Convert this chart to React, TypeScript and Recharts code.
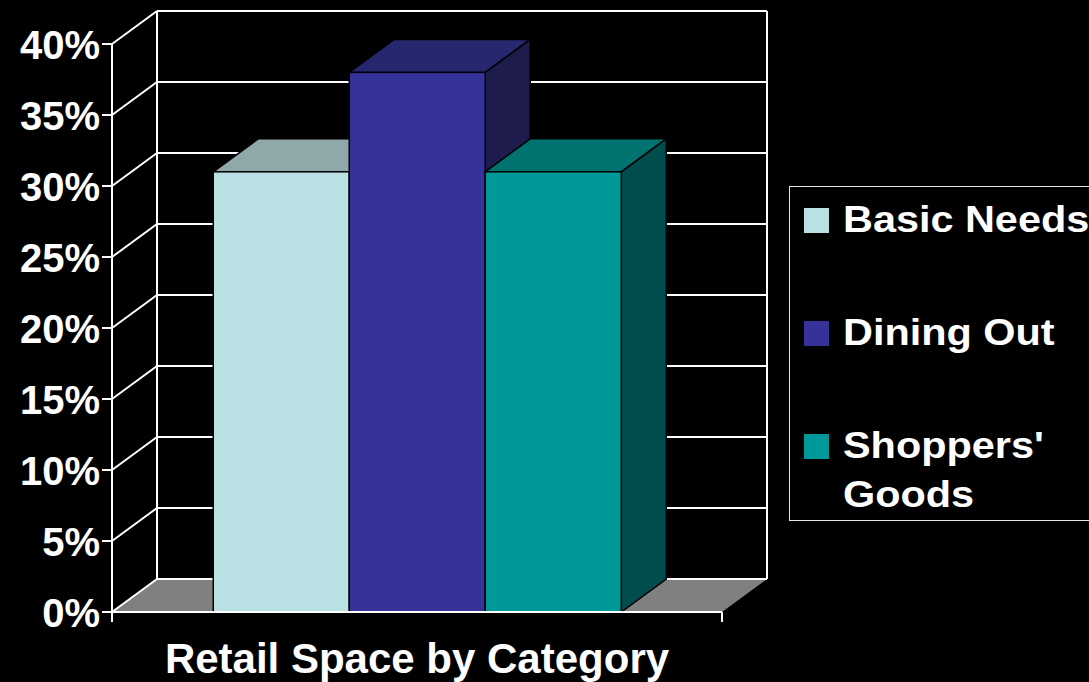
import React from 'react';
import { BarChart, Bar, XAxis, YAxis, CartesianGrid, Legend } from 'recharts';

const categories = ['Retail Space by Category'];
const seriesNames = ['Basic Needs', 'Dining Out', "Shoppers' Goods"];
const basicNeeds = [31];
const diningOut = [38];
const shoppersGoods = [31];
const yTicks = [0, 5, 10, 15, 20, 25, 30, 35, 40];

const data = categories.map((category, i) => ({
  category,
  basic: basicNeeds[i],
  dining: diningOut[i],
  shoppers: shoppersGoods[i],
}));

// fake 3d depth, same for the walls and the boxes
const DX = 45;
const DY = 33;

const FONT = '"Liberation Sans", Arial, sans-serif';
const LINE = '#ffffff';

const Box3D = (props: any) => {
  const { x, y, width, height, fill, topFill, sideFill } = props;
  if (!width || height == null) return null;
  const r = x + width;
  const b = y + height;
  return (
    <g>
      <polygon
        points={`${x},${y} ${r},${y} ${r + DX},${y - DY} ${x + DX},${y - DY}`}
        fill={topFill}
        stroke="#000"
        strokeWidth={1.5}
      />
      <polygon
        points={`${r},${y} ${r + DX},${y - DY} ${r + DX},${b - DY} ${r},${b}`}
        fill={sideFill}
        stroke="#000"
        strokeWidth={1.5}
      />
      <rect x={x} y={y} width={width} height={height} fill={fill} stroke="#000" strokeWidth={1.5} />
    </g>
  );
};

// horizontal grid line -> diagonal to the back wall + line along the back wall
const renderWallLine = (p: any) => {
  const { x1, y1, x2, index } = p;
  const isFloor =
    typeof p.y === 'number' && typeof p.height === 'number'
      ? Math.abs(y1 - (p.y + p.height)) < 1
      : index === 0;
  return (
    <g>
      {isFloor && (
        <polygon
          points={`${x1},${y1} ${x2},${y1} ${x2 + DX},${y1 - DY} ${x1 + DX},${y1 - DY}`}
          fill="#808080"
        />
      )}
      <line x1={x1} y1={y1} x2={x1 + DX} y2={y1 - DY} stroke={LINE} strokeWidth={2} />
      <line x1={x1 + DX} y1={y1 - DY} x2={x2 + DX} y2={y1 - DY} stroke={LINE} strokeWidth={2} />
    </g>
  );
};

// vertical edges of the back wall + category boundary ticks under the floor
const renderWallEdge = (p: any) => {
  const { x1, y1, y2 } = p;
  return (
    <g>
      <line x1={x1 + DX} y1={y1 - DY} x2={x1 + DX} y2={y2 - DY} stroke={LINE} strokeWidth={2} />
      <line x1={x1} y1={y2} x2={x1} y2={y2 + 10} stroke={LINE} strokeWidth={2} />
    </g>
  );
};

const YTick = ({ x, y, payload }: any) => (
  <text x={x} y={y} dy={15} textAnchor="end" fill="#fff" fontSize={40} fontWeight="bold" fontFamily={FONT}>
    {payload.value}%
  </text>
);

const XTick = ({ x, y, payload }: any) => (
  <text x={x} y={y} dy={61} textAnchor="middle" fill="#fff" fontSize={42} fontWeight="bold" fontFamily={FONT}>
    {payload.value}
  </text>
);

const LegendBox = ({ payload }: any) => (
  <div
    style={{
      boxSizing: 'border-box',
      width: 300,
      height: 335,
      border: '1.5px solid #e6e6e6',
      borderRight: 'none',
      paddingTop: 8,
      paddingLeft: 14,
      fontFamily: FONT,
      fontWeight: 'bold',
      fontSize: 36,
      lineHeight: '49px',
      color: '#fff',
    }}
  >
    {(payload || []).map((entry: any) => (
      <div key={entry.value} style={{ display: 'flex', alignItems: 'flex-start', marginBottom: 64 }}>
        <span style={{ flex: 'none', width: 25, height: 25, marginTop: 13, background: entry.color }} />
        <span
          style={{
            marginLeft: 14,
            width: 215,
            transform: 'scaleX(1.15)',
            transformOrigin: 'left top',
          }}
        >
          {entry.value}
        </span>
      </div>
    ))}
  </div>
);

export default function App() {
  return (
    <div
      style={{
        position: 'absolute',
        left: 0,
        top: 0,
        width: 1089,
        height: 682,
        background: '#000',
        overflow: 'hidden',
      }}
    >
      <BarChart
        width={1089}
        height={682}
        data={data}
        margin={{ top: 44, right: 367, bottom: 0, left: 0 }}
        barGap={0}
        barCategoryGap="16.6%"
      >
        <CartesianGrid
          horizontal={renderWallLine}
          vertical={renderWallEdge}
          verticalCoordinatesGenerator={({ offset }: any) => [offset.left, offset.left + offset.width]}
        />
        <XAxis
          dataKey="category"
          height={70}
          axisLine={{ stroke: LINE, strokeWidth: 2 }}
          tickLine={false}
          tickSize={0}
          tickMargin={0}
          tick={<XTick />}
        />
        <YAxis
          width={112}
          domain={[0, 40]}
          ticks={yTicks}
          interval={0}
          axisLine={{ stroke: LINE, strokeWidth: 2 }}
          tickLine={{ stroke: LINE, strokeWidth: 2 }}
          tickSize={10}
          tickMargin={2}
          tick={<YTick />}
        />
        <Legend
          layout="vertical"
          align="center"
          verticalAlign="middle"
          content={<LegendBox />}
          wrapperStyle={{ left: 789, top: 186, width: 300, height: 335 }}
        />
        <Bar
          dataKey="basic"
          name={seriesNames[0]}
          fill="#B9E0E3"
          isAnimationActive={false}
          shape={(p: any) => <Box3D {...p} topFill="#8FA8AA" sideFill="#7C989A" />}
        />
        <Bar
          dataKey="dining"
          name={seriesNames[1]}
          fill="#353399"
          isAnimationActive={false}
          shape={(p: any) => <Box3D {...p} topFill="#27276F" sideFill="#1D1C4D" />}
        />
        <Bar
          dataKey="shoppers"
          name={seriesNames[2]}
          fill="#009999"
          isAnimationActive={false}
          shape={(p: any) => <Box3D {...p} topFill="#007370" sideFill="#004D4D" />}
        />
      </BarChart>
    </div>
  );
}
